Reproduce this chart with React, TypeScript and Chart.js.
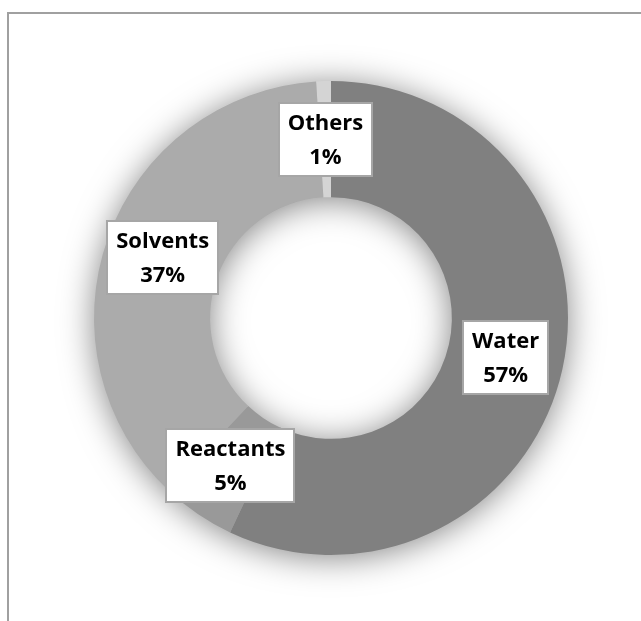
import React, { useEffect, useRef } from "react";
import { Chart, registerables } from "chart.js";

Chart.register(...registerables);

const categories = ["Water", "Reactants", "Solvents", "Others"];
const shares = [57, 5, 37, 1];
const sliceColors = ["#808080", "#999999", "#ababab", "#d4d4d4"];

const LABEL_FONT = "bold 22px 'Open Sans', 'Liberation Sans', sans-serif";

const ringShadow = {
  id: "ringShadow",
  beforeDatasetsDraw(chart: any) {
    const meta = chart.getDatasetMeta(0);
    const arc = meta.data[0];
    if (!arc) return;
    const { x, y, outerRadius, innerRadius } = arc.getProps(
      ["x", "y", "outerRadius", "innerRadius"],
      true
    );
    const ctx = chart.ctx;
    ctx.save();
    ctx.shadowColor = "rgba(0,0,0,0.5)";
    ctx.shadowBlur = 34;
    ctx.shadowOffsetY = 3;
    ctx.beginPath();
    ctx.arc(x, y, outerRadius - 1, 0, Math.PI * 2);
    ctx.arc(x, y, innerRadius + 1, 0, Math.PI * 2, true);
    ctx.closePath();
    ctx.fillStyle = "#a0a0a0";
    ctx.fill();
    ctx.restore();
  },
};

const boxLabels = {
  id: "boxLabels",
  afterDatasetsDraw(chart: any) {
    const meta = chart.getDatasetMeta(0);
    const data = chart.data.datasets[0].data as number[];
    const total = data.reduce((a, b) => a + b, 0);
    const ctx = chart.ctx;
    ctx.save();
    ctx.font = LABEL_FONT;
    meta.data.forEach((arc: any, i: number) => {
      const { x, y } = arc.getCenterPoint(true);
      const lines = [
        String(chart.data.labels[i]),
        Math.round((data[i] / total) * 100) + "%",
      ];
      const tw = Math.max(...lines.map((l) => ctx.measureText(l).width));
      const w = Math.round(tw + 20);
      const h = 75;
      const bx = Math.round(x - w / 2);
      const by = Math.round(y - h / 2);
      ctx.fillStyle = "#ffffff";
      ctx.fillRect(bx, by, w, h);
      ctx.strokeStyle = "#a6a6a6";
      ctx.lineWidth = 2;
      ctx.strokeRect(bx + 1, by + 1, w - 2, h - 2);
      ctx.fillStyle = "#000000";
      ctx.textAlign = "center";
      ctx.textBaseline = "alphabetic";
      ctx.fillText(lines[0], x, by + h / 2 - 10);
      ctx.fillText(lines[1], x, by + h / 2 + 24);
    });
    ctx.restore();
  },
};

export default function App() {
  const ref = useRef<HTMLCanvasElement | null>(null);

  useEffect(() => {
    if (!ref.current) return;
    const chart = new Chart(ref.current, {
      type: "doughnut",
      data: {
        labels: categories,
        datasets: [
          {
            data: shares,
            backgroundColor: sliceColors,
            borderWidth: 0,
          },
        ],
      },
      options: {
        responsive: false,
        animation: false,
        cutout: "51%",
        layout: { padding: { left: 85, right: 73, top: 67, bottom: 66 } },
        plugins: {
          legend: { display: false },
          tooltip: { enabled: false },
        },
      },
      plugins: [ringShadow, boxLabels],
    });
    return () => chart.destroy();
  }, []);

  return (
    <div
      style={{
        position: "fixed",
        left: 7,
        top: 12,
        width: 700,
        height: 700,
        borderLeft: "2px solid #a0a0a0",
        borderTop: "2px solid #a0a0a0",
        background: "#ffffff",
        overflow: "hidden",
      }}
    >
      <canvas ref={ref} width={632} height={607} style={{ display: "block" }} />
    </div>
  );
}
